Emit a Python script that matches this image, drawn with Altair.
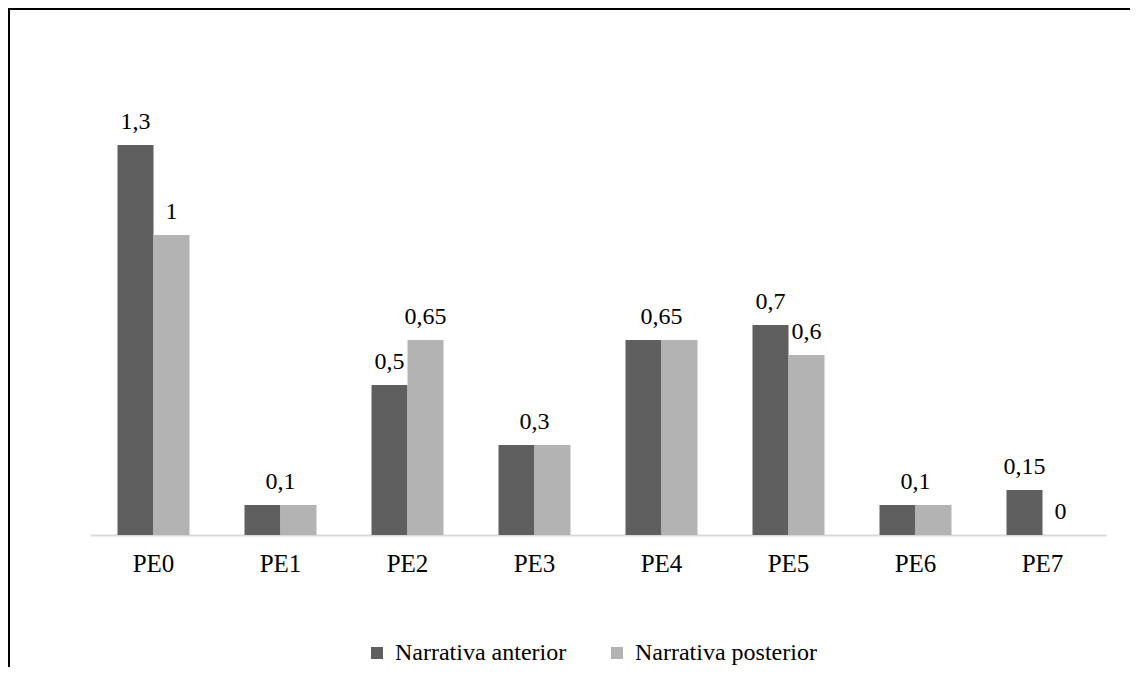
import altair as alt
import pandas as pd

categories = ["PE0", "PE1", "PE2", "PE3", "PE4", "PE5", "PE6", "PE7"]
anterior = [1.3, 0.1, 0.5, 0.3, 0.65, 0.7, 0.1, 0.15]
posterior = [1.0, 0.1, 0.65, 0.3, 0.65, 0.6, 0.1, 0.0]
series_names = ["Narrativa anterior", "Narrativa posterior"]
series_colors = ["#5f5f5f", "#b3b3b3"]

FONT = "Liberation Serif"

rows = []
for c, a, p in zip(categories, anterior, posterior):
    rows.append({"cat": c, "series": series_names[0], "value": a})
    rows.append({"cat": c, "series": series_names[1], "value": p})
bars_df = pd.DataFrame(rows)


def fmt(v):
    return ("%g" % v).replace(".", ",")


lab_rows = []
for c, a, p in zip(categories, anterior, posterior):
    if a == p:
        lab_rows.append({"cat": c, "pos": "center", "value": a, "label": fmt(a)})
    else:
        lab_rows.append({"cat": c, "pos": "left", "value": a, "label": fmt(a)})
        lab_rows.append({"cat": c, "pos": "right", "value": p, "label": fmt(p)})
labels_df = pd.DataFrame(lab_rows)

x_scale = alt.Scale(domain=categories, paddingInner=0.433, paddingOuter=0.2165)
y_scale = alt.Scale(domain=[0, 1.6], nice=False)

bars = alt.Chart(bars_df).mark_bar().encode(
    x=alt.X("cat:N", scale=x_scale, sort=categories,
            axis=alt.Axis(title=None, labelAngle=0, labelFont=FONT, labelFontSize=25,
                          labelColor="black", domainColor="#d9d9d9", domainWidth=2,
                          ticks=False, grid=False, labelPadding=16)),
    xOffset=alt.XOffset("series:N", sort=series_names,
                        scale=alt.Scale(domain=series_names, paddingInner=0, paddingOuter=0)),
    y=alt.Y("value:Q", scale=y_scale, axis=None),
    color=alt.Color("series:N", sort=series_names,
                    scale=alt.Scale(domain=series_names, range=series_colors),
                    legend=alt.Legend(title=None, orient="none", legendX=275, legendY=586,
                                      direction="horizontal", symbolType="square",
                                      symbolSize=144, symbolStrokeWidth=0,
                                      labelFont=FONT, labelFontSize=24, labelColor="black",
                                      labelLimit=400, columnPadding=38, labelOffset=6)),
)


def text_layer(pos, dx):
    return alt.Chart(labels_df).transform_filter(
        alt.datum.pos == pos
    ).mark_text(font=FONT, fontSize=24, color="black", baseline="alphabetic",
                dy=-16, dx=dx).encode(
        x=alt.X("cat:N", scale=x_scale, sort=categories),
        y=alt.Y("value:Q", scale=y_scale),
        text="label:N",
    )


one = pd.DataFrame({"a": [0]})
border_top = alt.Chart(one).mark_rect(color="black", strokeWidth=0, clip=False).encode(
    x=alt.value(-82.5), x2=alt.value(1040), y=alt.value(-47.5), y2=alt.value(-45)
)
border_left = alt.Chart(one).mark_rect(color="black", strokeWidth=0, clip=False).encode(
    x=alt.value(-82.5), x2=alt.value(-80), y=alt.value(-47.5), y2=alt.value(612)
)

chart = alt.layer(
    border_top, border_left, bars,
    text_layer("left", -18), text_layer("right", 18), text_layer("center", 0)
).properties(
    width=1016, height=480,
    autosize=alt.AutoSizeParams(type="none"),
    padding={"left": 82, "top": 47, "right": 25, "bottom": 133},
).configure(background="white", font=FONT).configure_view(strokeWidth=0, stroke="transparent")

chart.save("out.html", embed_options={"renderer": "svg", "actions": False})
